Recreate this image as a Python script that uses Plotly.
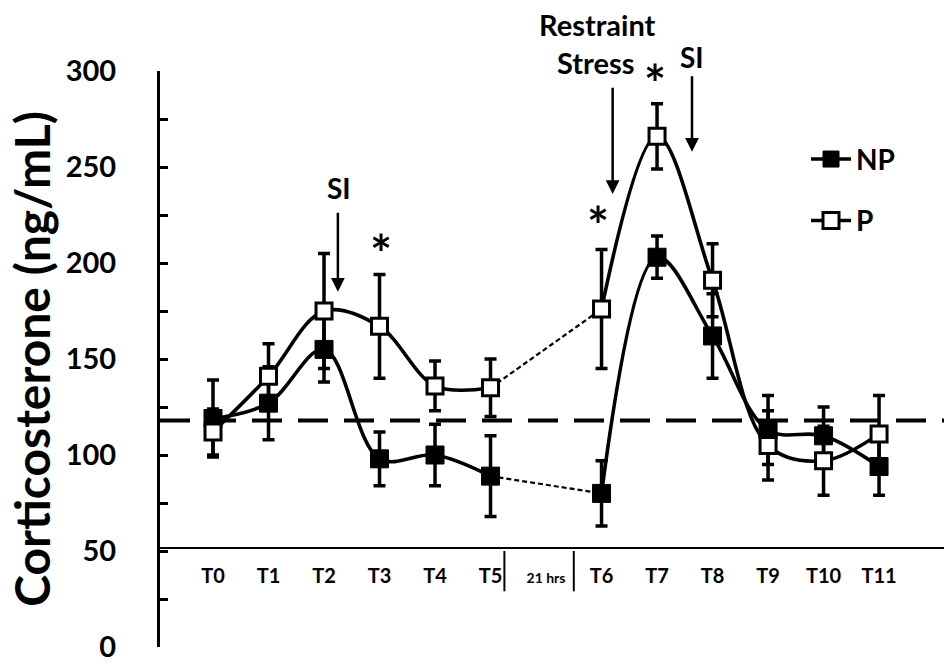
import plotly.graph_objects as go

cats = ["T0", "T1", "T2", "T3", "T4", "T5", "21 hrs", "T6", "T7", "T8", "T9", "T10", "T11"]
np_mean = [119, 127, 155, 98, 100, 89, None, 80, 203, 162, 113, 110, 94]
np_err = [20, 19, 17, 14, 16, 21, None, 17, 11, 22, 18, 15, 15]
p_mean = [112, 141, 175, 167, 136, 135, None, 176, 266, 191, 105, 97, 111]
p_err = [12, 17, 30, 27, 13, 15, None, 31, 17, 19, 18, 18, 20]
baseline = 118
yticks = [0, 50, 100, 150, 200, 250, 300]
YMAX = 300

FONT = "Lato"
xs = list(range(len(cats)))
seg1 = [i for i in range(0, 6)]
seg2 = [i for i in range(7, 13)]
gap = [5, 7]

fig = go.Figure()

# dashed connectors across the 21 hrs gap
for mean in (np_mean, p_mean):
    fig.add_trace(go.Scatter(
        x=[xs[i] for i in gap], y=[mean[i] for i in gap], mode="lines",
        line=dict(color="black", width=2.2, dash="5px,3px"),
        showlegend=False, hoverinfo="skip"))

def add_series(mean, err, name, marker, group):
    for k, seg in enumerate((seg1, seg2)):
        fig.add_trace(go.Scatter(
            x=[xs[i] for i in seg], y=[mean[i] for i in seg],
            error_y=dict(type="data", array=[err[i] for i in seg], color="black",
                         thickness=3.5, width=6),
            mode="lines+markers", name=name, legendgroup=group,
            showlegend=(k == 0),
            line=dict(color="black", width=3.6, shape="spline", smoothing=1.0),
            marker=marker))

add_series(np_mean, np_err, "NP",
           dict(symbol="square", size=18, color="black", line=dict(color="black", width=1)),
           "np")
add_series(p_mean, p_err, "P",
           dict(symbol="square", size=16, color="white", line=dict(color="black", width=3)),
           "p")

xmin, xmax = -0.955, 13.17

# baseline dashed line
fig.add_shape(type="line", xref="x", yref="y", x0=xmin, x1=xmax, y0=baseline, y1=baseline,
              line=dict(color="black", width=4, dash="30px,16px"))
# separators around "21 hrs"
for xv in (5.25, 6.5):
    fig.add_shape(type="line", xref="x", yref="y", x0=xv, x1=xv, y0=50, y1=29,
                  line=dict(color="black", width=2))

def font(size):
    return dict(family=FONT, size=size, color="black")

anns = [
    dict(x=2.27, y=239, yref="y", text="<b>SI</b>", font=font(28)),
    dict(x=8.63, y=307.5 / YMAX, yref="paper", text="<b>SI</b>", font=font(28)),
    dict(x=6.93, y=324 / YMAX, yref="paper", text="<b>Restraint</b>", font=font(29)),
    dict(x=6.9, y=304.5 / YMAX, yref="paper", text="<b>Stress</b>", font=font(29)),
    dict(x=3.02, y=205, yref="y", text="<b>*</b>", font=font(52)),
    dict(x=6.93, y=220, yref="y", text="<b>*</b>", font=font(52)),
    dict(x=7.96, y=294, yref="y", text="<b>*</b>", font=font(52)),
]
for a in anns:
    a.update(showarrow=False, xanchor="center", yanchor="middle")
arrows = [(2.25, 227, 185), (7.2, 292, 236), (8.63, 298, 258)]
for ax_, y0, y1 in arrows:
    anns.append(dict(x=ax_, y=y1, ax=ax_, ay=y0, yref="y", axref="x", ayref="y",
                     text="", showarrow=True, arrowhead=2, arrowsize=1.1, arrowwidth=2.5,
                     arrowcolor="black"))
for a in anns:
    a["xref"] = "x"

ticktext = [("<span style='font-size:14px'>%s</span>" % c) if c == "21 hrs" else c for c in cats]

fig.update_layout(
    template="none",
    width=952, height=665,
    margin=dict(l=160, r=8, t=71, b=18),
    plot_bgcolor="white", paper_bgcolor="white",
    font=dict(family=FONT, color="black"),
    annotations=anns,
    showlegend=True,
    legend=dict(x=0.824, y=0.89, xanchor="left", yanchor="top", tracegroupgap=22,
                font=dict(family=FONT, size=28, color="black", weight="bold"),
                bgcolor="rgba(0,0,0,0)", itemwidth=40),
    xaxis=dict(range=[xmin, xmax], tickmode="array", tickvals=xs, ticktext=ticktext,
               showgrid=False, zeroline=False, showline=True, linecolor="black", linewidth=2,
               ticks="", anchor="free", position=51.5 / YMAX, automargin=False,
               ticklabelstandoff=10,
               tickfont=dict(family=FONT, size=20, color="black", weight="bold")),
    yaxis=dict(range=[0, YMAX], tickvals=yticks, showgrid=False, zeroline=False,
               showline=True, linecolor="black", linewidth=3, ticks="inside", ticklen=8,
               tickwidth=3, tickcolor="black", ticklabelstandoff=35, automargin=False,
               minor=dict(dtick=25, ticks="inside", ticklen=8, tickwidth=3, tickcolor="black",
                          showgrid=False),
               tickfont=dict(family=FONT, size=29, color="black", weight="bold"),
               title=dict(text="<b>Corticosterone (ng/mL)</b>", standoff=0,
                          font=dict(family=FONT, size=48, color="black"))),
)

fig.write_html("out.html", config={"displayModeBar": False},
               post_script="document.body.style.margin='0';")
